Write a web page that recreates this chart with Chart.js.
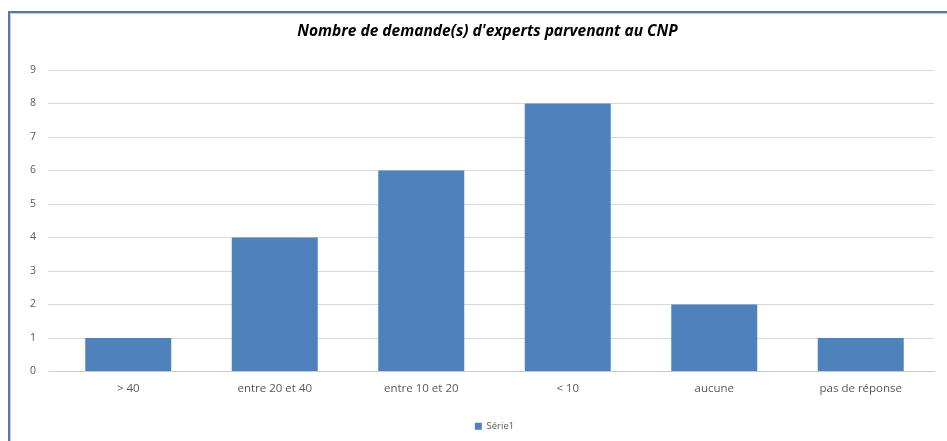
<!DOCTYPE html>
<html>
<head>
<meta charset="utf-8">
<script src="https://cdn.jsdelivr.net/npm/chart.js@4.4.1/dist/chart.umd.min.js"></script>
<style>
  html, body { margin: 0; padding: 0; background: #ffffff; overflow: hidden; }
  #wrap { position: relative; width: 947px; height: 441px; }
  #frame {
    position: absolute; left: 8px; top: 11px; width: 980px; height: 480px;
    border-left: 2px solid #5878a6; border-top: 2px solid #5878a6;
    box-shadow: inset 1px 1px 0 #c9cdd3;
    pointer-events: none;
  }
  canvas { position: absolute; left: 0; top: 0; }
</style>
</head>
<body>
<div id="wrap">
  <canvas id="chart" width="947" height="441"></canvas>
  <div id="frame"></div>
</div>
<script>
const categories = ['> 40', 'entre 20 et 40', 'entre 10 et 20', '< 10', 'aucune', 'pas de réponse'];
const serie1 = [1, 4, 6, 8, 2, 1];
const yTicks = [0, 1, 2, 3, 4, 5, 6, 7, 8, 9];
const chartTitle = "Nombre de demande(s) d'experts parvenant au CNP";

const baseFont = "'Open Sans', 'Noto Sans', sans-serif";

// Title drawn above the plot, centred slightly left of the plot's middle
const titlePlugin = {
  id: 'chartTitle',
  afterDraw(chart) {
    const { ctx, chartArea } = chart;
    ctx.save();
    ctx.font = `italic bold 15.5px ${baseFont}`;
    ctx.fillStyle = '#000000';
    ctx.textAlign = 'center';
    ctx.textBaseline = 'middle';
    ctx.fillText(chartTitle, (chartArea.left + chartArea.right) / 2 - 7, 32);
    ctx.restore();
  }
};

new Chart(document.getElementById('chart'), {
  type: 'bar',
  data: {
    labels: categories,
    datasets: [{
      label: 'Série1',
      data: serie1,
      backgroundColor: '#4f81bd',
      borderWidth: 0,
      barPercentage: 0.587,
      categoryPercentage: 1.0
    }]
  },
  plugins: [titlePlugin],
  options: {
    responsive: false,
    animation: false,
    layout: { padding: { left: 0, right: 13, top: 70, bottom: 0 } },
    plugins: {
      title: { display: false },
      legend: {
        display: true,
        position: 'bottom',
        fullSize: false,
        labels: {
          color: '#595959',
          font: { family: baseFont, size: 9.5 },
          boxWidth: 7,
          boxHeight: 7,
          padding: 10
        }
      },
      tooltip: { enabled: false }
    },
    scales: {
      x: {
        grid: { display: false, drawTicks: false },
        border: { display: true, color: '#c8c8c8', width: 1 },
        ticks: {
          color: '#595959',
          font: { family: baseFont, size: 11.5 },
          padding: 10,
          maxRotation: 0
        },
        afterFit: (scale) => { scale.height = 40; }
      },
      y: {
        min: 0,
        max: 9,
        afterBuildTicks: (scale) => { scale.ticks = yTicks.map(v => ({ value: v })); },
        grid: { color: '#d9d9d9', drawTicks: true, tickLength: 7 },
        border: { display: false },
        ticks: {
          color: '#595959',
          font: { family: baseFont, size: 10.5 },
          padding: 12
        },
        afterFit: (scale) => { scale.width = 55; }
      }
    }
  }
});
</script>
</body>
</html>
